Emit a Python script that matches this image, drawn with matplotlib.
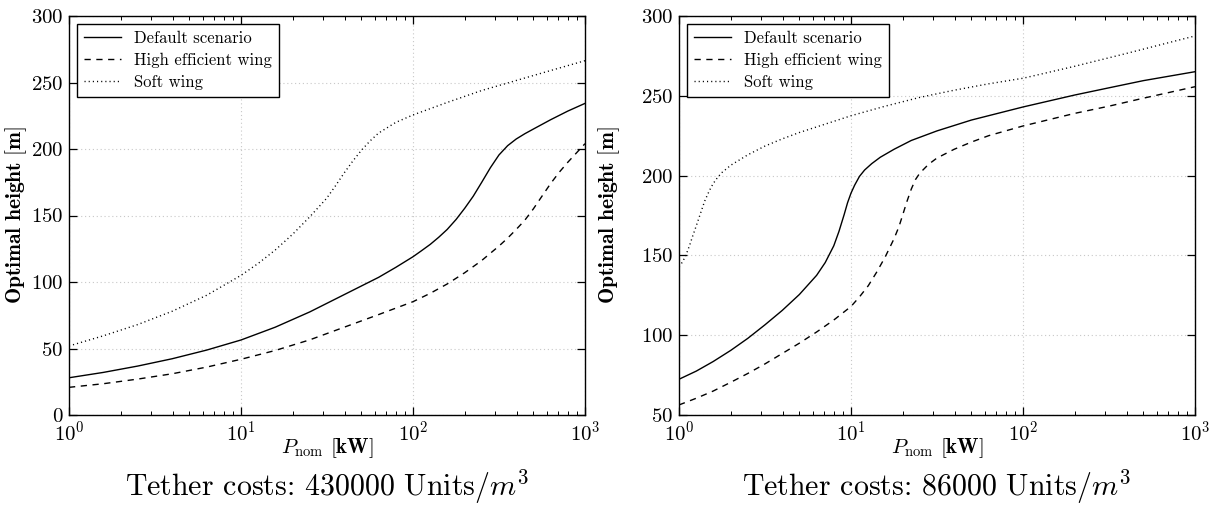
import numpy as np
import matplotlib
matplotlib.use("Agg")
import matplotlib.pyplot as plt
from matplotlib.ticker import LogLocator, LogFormatterMathtext, MultipleLocator, NullFormatter

plt.rcParams['font.family'] = 'cmr10'
plt.rcParams['mathtext.fontset'] = 'cm'
plt.rcParams['axes.formatter.use_mathtext'] = True

# ---------------- data ----------------
labels = ["Default scenario", "High efficient wing", "Soft wing"]

# Left panel: tether costs 430000 Units/m^3
L_default_P = [1, 1.58, 2.51, 3.98, 6.31, 10, 15.8, 25.1, 39.8, 63.1, 79.4, 100, 112, 126, 141,
               158, 178, 200, 224, 251, 282, 316, 355, 398, 447, 501, 631, 794, 1000]
L_default_H = [28, 32, 36.8, 42.3, 48.8, 56.4, 66, 77.5, 90.5, 103.5, 111, 119, 123.5, 128.3,
               133.6, 139.5, 147, 155.5, 164.5, 175, 186, 195.5, 202.5, 207.5, 211.5, 215, 222,
               228.5, 234.3]

L_high_P = [1, 1.58, 2.51, 3.98, 6.31, 10, 15.8, 25.1, 39.8, 63.1, 100, 126, 158, 200, 250, 316,
            355, 398, 447, 501, 562, 631, 708, 794, 891, 1000]
L_high_H = [20.8, 23.5, 27, 31, 36, 41.9, 48.5, 56.5, 66, 75.5, 85.2, 91.5, 98.5, 107, 116, 127,
            133, 139.5, 146.5, 155, 164.5, 174, 182.5, 190, 197, 204]

L_soft_P = [1, 1.58, 2.51, 3.98, 6.31, 10, 12.6, 15.8, 20, 25.1, 31.5, 35.5, 39.8, 44.7, 50.1,
            56.2, 63.1, 79.4, 100, 158, 251, 398, 631, 1000]
L_soft_H = [51.9, 59.5, 68, 78, 90, 105, 114, 124, 136, 149, 163, 172.5, 182, 191, 199, 206, 212,
            220, 225.6, 235, 244, 251.5, 259, 266.4]

# Right panel: tether costs 86000 Units/m^3
R_default_P = [1, 1.26, 1.58, 2, 2.51, 3.16, 3.98, 5.01, 6.31, 7.08, 7.94, 8.51, 9.12, 9.55, 10,
               10.5, 11.2, 12, 13.2, 14.8, 17.8, 22.4, 31.6, 50.1, 100, 200, 316, 501, 1000]
R_default_H = [72.4, 77.5, 83.5, 90.5, 98, 106.5, 115.5, 125.5, 137.5, 145.5, 156, 165, 175.5,
               183, 189, 194, 199.5, 203.5, 207.5, 211.5, 216.5, 222, 228, 234.8, 243, 250.5,
               255, 259.5, 265.1]

R_high_P = [1, 1.26, 1.58, 2, 2.51, 3.16, 3.98, 5.01, 6.31, 7.94, 10, 11.2, 12.6, 14.1, 15.8,
            17.8, 19, 20, 21.1, 22.4, 23.7, 25.1, 28.2, 31.6, 39.8, 50.1, 63.1, 100, 200, 316,
            501, 1000]
R_high_H = [56.3, 60.5, 65, 70.5, 76, 82, 88.5, 95, 102, 109.5, 118, 124, 131, 139.5, 149, 160.5,
            168, 175.5, 183.5, 191.5, 197.5, 201.5, 207, 211, 216.5, 221, 225, 231.1, 239,
            243.5, 248.5, 255.7]

R_soft_P = [1, 1.05, 1.1, 1.15, 1.2, 1.26, 1.33, 1.41, 1.5, 1.58, 1.68, 1.78, 2, 2.51, 3.16,
            3.98, 5.01, 6.31, 10, 15.8, 25.1, 39.8, 63.1, 100, 200, 398, 1000]
R_soft_H = [142.9, 146, 150.5, 156, 162, 168.5, 176, 184, 190.5, 195, 199, 202, 206.5, 213,
            218.5, 223, 227, 230.5, 237.5, 243.5, 249, 253.5, 257.5, 261, 268.5, 276.5, 287.5]

titles = ["Tether costs: 430000 Units/$m^3$", "Tether costs: 86000 Units/$m^3$"]
ylims = [(0, 300), (50, 300)]

# ---------------- figure ----------------
W, H = 1215, 509
fig = plt.figure(figsize=(W / 100, H / 100), dpi=100)

ax_left_px = [69, 679]
ax_w_px = 516
ax_bottom_px = 415
ax_top_px = 16

panels = [
    [(L_default_P, L_default_H), (L_high_P, L_high_H), (L_soft_P, L_soft_H)],
    [(R_default_P, R_default_H), (R_high_P, R_high_H), (R_soft_P, R_soft_H)],
]
styles = [dict(linestyle='-'), dict(linestyle=(0, (4.5, 4))), dict(linestyle=(0, (0.8, 2.2)))]
ylabel_xpx = [29, 622]

for i in range(2):
    ax = fig.add_axes([ax_left_px[i] / W, (H - ax_bottom_px) / H,
                       ax_w_px / W, (ax_bottom_px - ax_top_px) / H])
    for (P, Hh), st, lab in zip(panels[i], styles, labels):
        ax.plot(P, Hh, color='black', lw=1.0, label=lab, **st)
    ax.set_xscale('log')
    ax.set_xlim(1, 1000)
    ax.set_ylim(*ylims[i])
    ax.yaxis.set_major_locator(MultipleLocator(50))
    ax.xaxis.set_major_locator(LogLocator(base=10, numticks=10))
    ax.xaxis.set_minor_locator(LogLocator(base=10, subs=np.arange(2, 10), numticks=10))
    ax.xaxis.set_minor_formatter(NullFormatter())
    ax.xaxis.set_major_formatter(LogFormatterMathtext())
    ax.tick_params(which='both', direction='in', top=True, right=True, labelsize=15, colors='black')
    ax.tick_params(which='major', length=6, width=0.9, pad=4)
    ax.tick_params(which='minor', length=3, width=0.7)
    for s in ax.spines.values():
        s.set_linewidth(1.0)
        s.set_color('black')
    ax.grid(True, which='major', color='#c8c8c8', linestyle=(0, (1, 2.5)), linewidth=0.8)
    ax.set_axisbelow(True)
    ax.set_xlabel(r'$P_{\mathrm{nom}}$ $\mathbf{[kW]}$', fontsize=15)
    ax.xaxis.set_label_coords(0.5, -0.052)
    ax.set_ylabel(r'$\mathbf{Optimal\ height\ [m]}$', fontsize=15.5)
    ax.yaxis.set_label_coords((ylabel_xpx[i] - ax_left_px[i]) / ax_w_px, 0.5)
    leg = ax.legend(loc='upper left', fontsize=12, frameon=True, fancybox=False,
                    edgecolor='black', framealpha=1, handlelength=2.2, borderpad=0.4,
                    labelspacing=0.4, handletextpad=0.8, borderaxespad=0.5)
    leg.get_frame().set_linewidth(1.0)
    cx = (ax_left_px[i] + ax_w_px / 2) / W
    fig.text(cx, (H - 487) / H, titles[i], ha='center', va='center', fontsize=21.5)

fig.savefig('out.png', dpi=100)
